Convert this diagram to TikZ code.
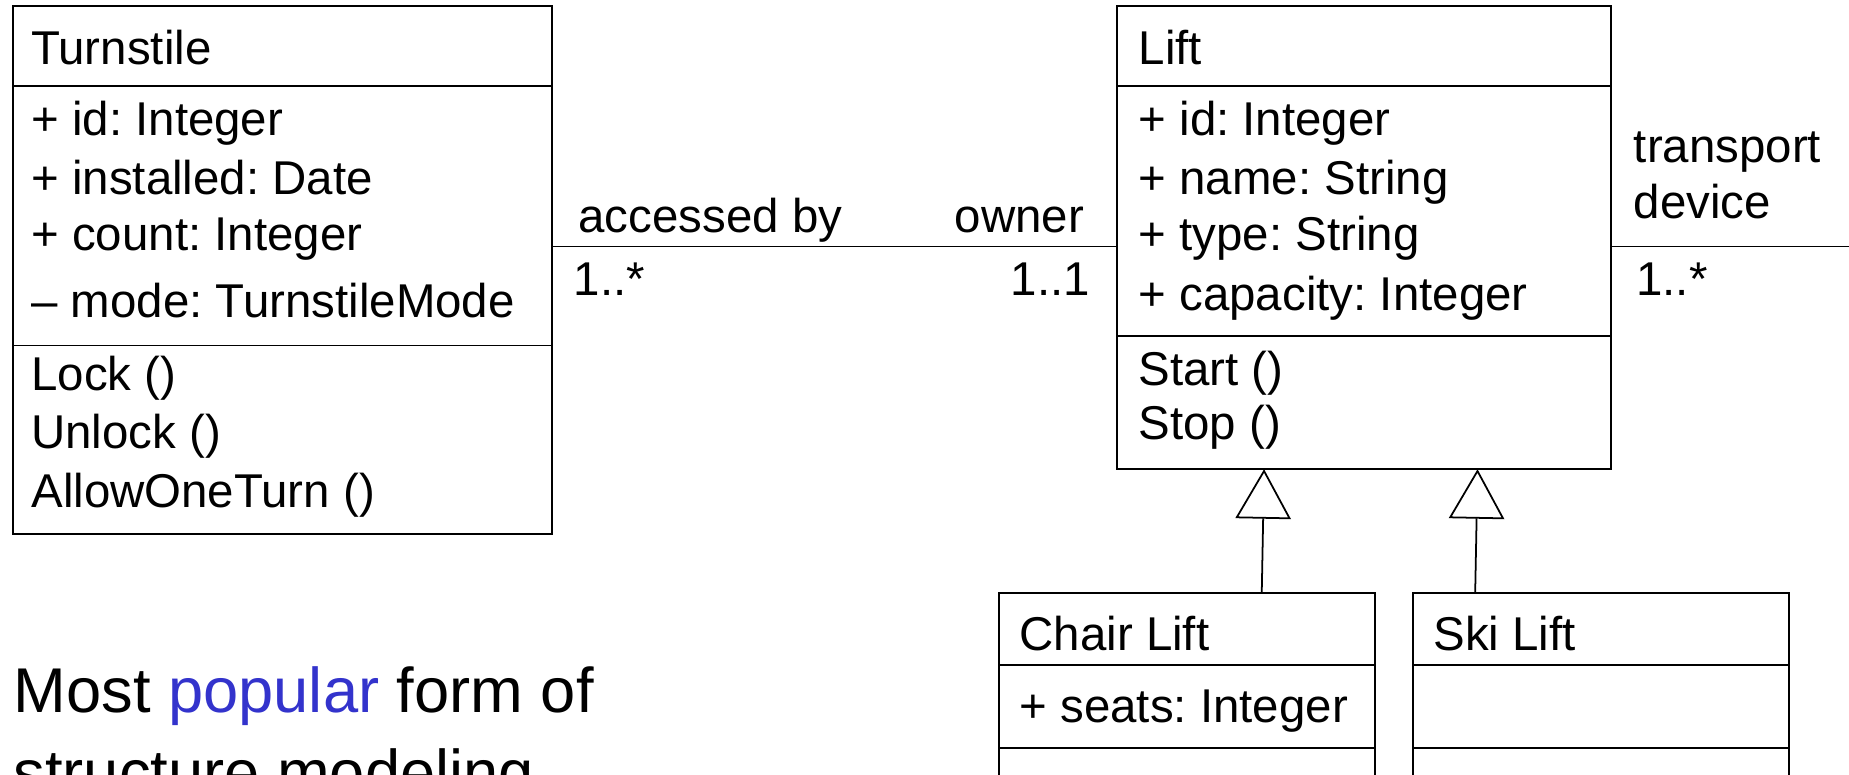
\documentclass[tikz,border=0pt]{standalone}
\usepackage{fontspec}
\setmainfont{Liberation Sans}
\usetikzlibrary{arrows.meta, calc}
\definecolor{azul}{RGB}{51,51,204}
\frenchspacing

\begin{document}
\begin{tikzpicture}[
    x=0.011792cm, y=-0.011792cm,
    clase/.style={
        draw, line width=0.5pt, anchor=north west,
        inner sep=0pt, outer sep=0pt
    },
    texto/.style={anchor=base west, inner sep=0pt, font=\fontsize{13.5}{16}\selectfont},
    textoder/.style={texto, anchor=base east},
    herencia/.style={-{Triangle[open, length=0.495cm, width=0.554cm]}, line width=0.5pt}
]
\useasboundingbox (0,0) rectangle (1568,657);
\clip (0,0) rectangle (1568,657);

% Clase Turnstile (arriba a la izquierda)
\node[clase, minimum width=5.389cm, minimum height=5.283cm] (turnstile) at (11,5) {};
\draw[line width=0.5pt] (turnstile.west |- 0,73) -- (turnstile.east |- 0,73);
\draw[line width=0.5pt] (turnstile.west |- 0,293) -- (turnstile.east |- 0,293);
\node[texto] (tNombre) at (26,54.5) {Turnstile};
\node[texto] (tId) at (26,115) {+ id: Integer};
\node[texto] (tInst) at (26,165) {+ installed: Date};
\node[texto] (tCount) at (26,212) {+ count: Integer};
\node[texto] (tMode) at (26,269.5) {– mode: TurnstileMode};
\node[texto] (tLock) at (26,331.5) {Lock ()};
\node[texto] (tUnlock) at (26,380) {Unlock ()};
\node[texto] (tAllow) at (26,430) {AllowOneTurn ()};

% Clase Lift (arriba a la derecha)
\node[clase, minimum width=4.941cm, minimum height=4.634cm] (lift) at (947,5) {};
\draw[line width=0.5pt] (lift.west |- 0,73) -- (lift.east |- 0,73);
\draw[line width=0.5pt] (lift.west |- 0,285) -- (lift.east |- 0,285);
\node[texto] (lNombre) at (965,54.5) {Lift};
\node[texto] (lId) at (965,115) {+ id: Integer};
\node[texto] (lName) at (965,165) {+ name: String};
\node[texto] (lType) at (965,212) {+ type: String};
\node[texto] (lCap) at (965,263) {+ capacity: Integer};
\node[texto] (lStart) at (965,327) {Start ()};
\node[texto] (lStop) at (965,373) {Stop ()};

% Subclases (abajo)
\node[clase, minimum width=3.762cm, minimum height=2.594cm] (chair) at (847,503) {};
\draw[line width=0.5pt] (chair.west |- 0,564) -- (chair.east |- 0,564);
\draw[line width=0.5pt] (chair.west |- 0,634) -- (chair.east |- 0,634);
\node[texto] (cNombre) at (864,552) {Chair Lift};
\node[texto] (cSeats) at (864,613) {+ seats: Integer};

\node[clase, minimum width=3.762cm, minimum height=2.594cm] (ski) at (1198,503) {};
\draw[line width=0.5pt] (ski.west |- 0,564) -- (ski.east |- 0,564);
\draw[line width=0.5pt] (ski.west |- 0,634) -- (ski.east |- 0,634);
\node[texto] (sNombre) at (1215,552) {Ski Lift};

% Asociaciones
\draw[line width=0.5pt] (turnstile.east |- 0,209) -- (lift.west |- 0,209);
\node[texto] (rolAcc) at (490,197) {accessed by};
\node[textoder] (rolOwner) at (920,197) {owner};
\node[texto] (multA) at (486,251) {1..*};
\node[textoder] (multB) at (925,251) {1..1};

\coordinate (borde) at (1568,209);
\draw[line width=0.5pt] (lift.east |- borde) -- (borde);
\node[texto] (rolTrans) at (1385,137.5) {transport};
\node[texto] (rolDev) at (1385,185) {device};
\node[texto] (multC) at (1387,251) {1..*};

% Herencia
\draw[herencia] ($(chair.north)+(63.5,0)$) -- ($(lift.south)+(-84.5,0)$);
\draw[herencia] ($(ski.north)+(-106.5,0)$) -- ($(lift.south)+(96.5,0)$);

% Texto inferior
\node[anchor=base west, inner sep=0pt, font=\fontsize{18}{24}\selectfont] (lema1) at (11,604)
    {Most \textcolor{azul}{popular} form of};
\node[anchor=base west, inner sep=0pt, font=\fontsize{18}{24}\selectfont] (lema2) at (11,674)
    {structure modeling};

\end{tikzpicture}
\end{document}
